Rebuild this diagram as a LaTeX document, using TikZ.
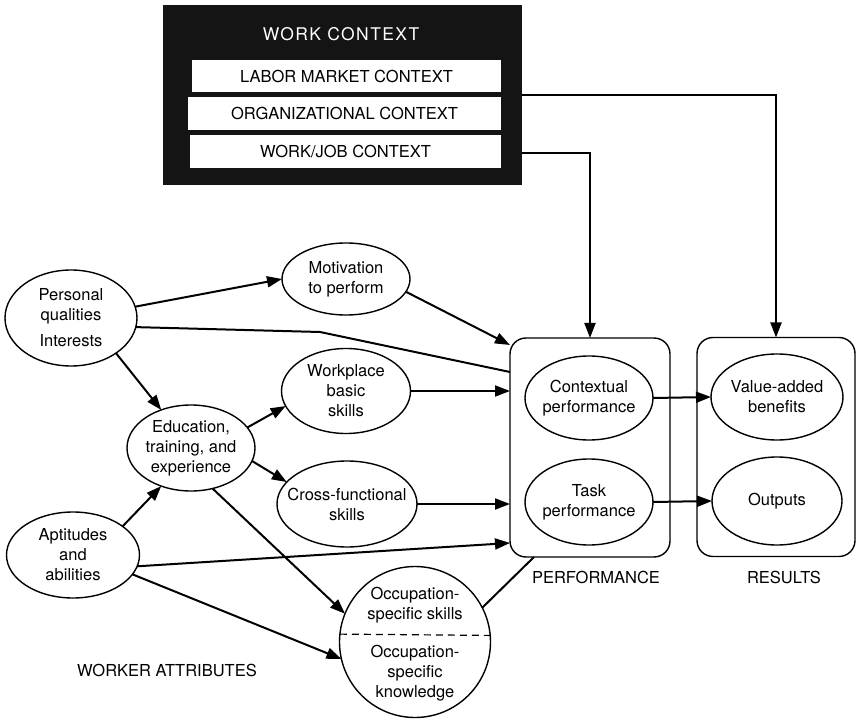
\documentclass[tikz,border=0pt]{standalone}
\usepackage{fontspec}
\setmainfont{TeX Gyre Heros}
\usetikzlibrary{shapes.geometric,arrows.meta}
\begin{document}
\begin{tikzpicture}[x=1pt,y=-1pt,
  every node/.style={font=\fontsize{16.5}{20}\selectfont, align=center, inner sep=0pt, outer sep=0pt},
  oval/.style={ellipse, draw, line width=1.4pt},
  panel/.style={draw, rounded corners=16pt, line width=1.4pt},
  ctxbox/.style={fill=white},
  arrow/.style={line width=2pt, -{Triangle[length=15pt,width=11pt]}},
  link/.style={line width=2pt},
]
\useasboundingbox (0,0) rectangle (857,719);

% work context
\node[fill=black!92, minimum width=359pt, minimum height=180pt] (wc) at (342.5,95) {};
\node[text=white, font=\fontsize{17.5}{20}\selectfont\addfontfeature{LetterSpace=8}] (wct) at (341,34) {WORK CONTEXT};
\node[ctxbox, minimum width=309pt, minimum height=32pt] (lab) at (346.5,76) {LABOR MARKET CONTEXT};
\node[ctxbox, minimum width=313pt, minimum height=33pt] (org) at (344.5,113.5) {ORGANIZATIONAL CONTEXT};
\node[ctxbox, minimum width=311pt, minimum height=33pt] (wj) at (345.5,151.5) {WORK/JOB CONTEXT};

% panels
\node[panel, minimum width=160pt, minimum height=219pt] (perf) at (590,447.5) {};
\node[panel, minimum width=158pt, minimum height=219pt] (res) at (776,447) {};
\node (perft) at (596,577) {PERFORMANCE};
\node (rest) at (784,577) {RESULTS};
\node (wat) at (167,670) {WORKER ATTRIBUTES};

% ellipses
\node[oval, minimum width=132pt, minimum height=96pt] (pq) at (71,318) {};
\node (pqt) at (pq) {Personal\\qualities\\[6pt]Interests};
\node[oval, minimum width=128pt, minimum height=72pt] (mot) at (346,279) {};
\node (mott) at (mot) {Motivation\\to perform};
\node[oval, minimum width=129pt, minimum height=85pt] (wp) at (346,391) {};
\node (wpt) at (wp) {Workplace\\basic\\skills};
\node[oval, minimum width=128pt, minimum height=86pt] (edu) at (191,448) {};
\node (edut) at (edu) {Education,\\training, and\\experience};
\node[oval, minimum width=140pt, minimum height=86pt] (cf) at (347,504) {};
\node (cft) at (cf) {Cross-functional\\skills};
\node[oval, minimum width=133pt, minimum height=86pt] (apt) at (73,555) {};
\node (aptt) at (apt) {Aptitudes\\and\\abilities};
\node[circle, draw, line width=1.4pt, minimum size=151pt] (occ) at (415,642) {};
\draw[dashed, line width=1.2pt, dash pattern=on 7pt off 5pt] (occ.174.6) -- (occ.5.4);
\node (occa) at (415,605) {Occupation-\\specific skills};
\node (occb) at (415,673) {Occupation-\\specific\\knowledge};

\node[oval, minimum width=128pt, minimum height=84pt] (cp) at (589,398) {};
\node (cpt) at (cp) {Contextual\\performance};
\node[oval, minimum width=128pt, minimum height=86pt] (tp) at (589,502) {};
\node (tpt) at (tp) {Task\\performance};
\node[oval, minimum width=132pt, minimum height=86pt] (va) at (777,397) {};
\node (vat) at (va) {Value-added\\benefits};
\node[oval, minimum width=130pt, minimum height=88pt] (out) at (777,501) {};
\node (outt) at (out) {Outputs};

% coordinates on panel sides
\coordinate (c1) at (522,95);
\coordinate (c2) at (522,153);
\coordinate (b1) at (320,332);
\coordinate (p1) at (510,345);
\coordinate (p2) at (510,372);
\coordinate (p3) at (510,543);
\coordinate (p4) at (534,557);

% connectors
\draw[arrow] (c1) -| (res.north);
\draw[arrow] (c2) -| (perf.north);
\draw[arrow] (pq.10) -- (mot.west);
\draw[link] (pq.-8) -- (b1) -- (p2);
\draw[arrow] (mot.-12) -- (p1);
\draw[arrow] (pq.-38) -- (edu.128);
\draw[arrow] (wp.east) -- (wp.east -| perf.west);
\draw[arrow] (edu.20) -- (wp.194);
\draw[arrow] (edu.-12) -- (cf.160);
\draw[arrow] (cf.east) -- (cf.east -| perf.west);
\draw[arrow] (apt.30) -- (edu.232);
\draw[arrow] (apt.-10) -- (p3);
\draw[arrow] (apt.-18) -- (occ.193);
\draw[arrow] (edu.-62) -- (occ.158);
\draw[link] (occ.27) -- (p4);
\draw[arrow] (cp.east) -- (va.west);
\draw[arrow] (tp.east) -- (out.west);
\end{tikzpicture}
\end{document}
